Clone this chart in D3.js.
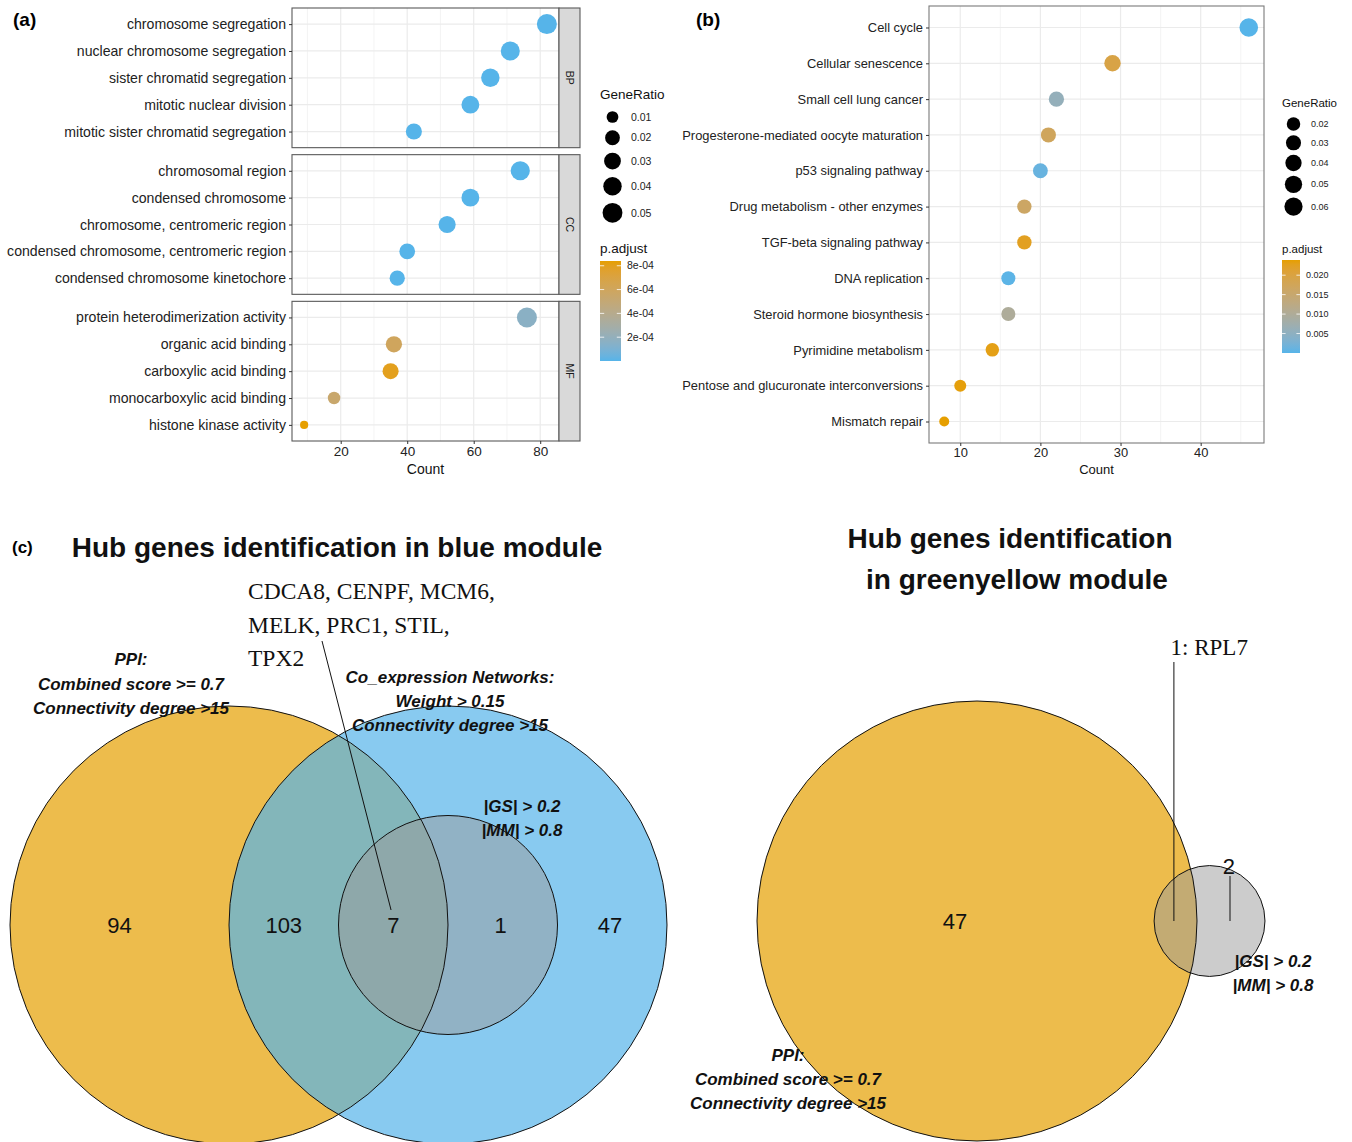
<!DOCTYPE html>
<html>
<head>
<meta charset="utf-8">
<script src="https://cdn.jsdelivr.net/npm/d3@7"></script>
<style>
  body { margin: 0; background: #fff; }
  svg { display: block; }
  text { font-family: "Liberation Sans", Arial, sans-serif; }
</style>
</head>
<body>
<script>
// ---- (a) GO enrichment ----
const goTerms = [
  "chromosome segregation", "nuclear chromosome segregation", "sister chromatid segregation",
  "mitotic nuclear division", "mitotic sister chromatid segregation",
  "chromosomal region", "condensed chromosome", "chromosome, centromeric region",
  "condensed chromosome, centromeric region", "condensed chromosome kinetochore",
  "protein heterodimerization activity", "organic acid binding", "carboxylic acid binding",
  "monocarboxylic acid binding", "histone kinase activity"
];
const goOntology = ["BP","BP","BP","BP","BP","CC","CC","CC","CC","CC","MF","MF","MF","MF","MF"];
const goCount = [82, 71, 65, 59, 42, 74, 59, 52, 40, 37, 76, 36, 35, 18, 9];
const goRatio = [0.051, 0.044, 0.040, 0.036, 0.026, 0.045, 0.036, 0.032, 0.024, 0.022, 0.051, 0.027, 0.026, 0.012, 0.006];
const goPadj = [2e-22, 1e-19, 4e-18, 3e-17, 6e-15, 1e-20, 2e-18, 5e-16, 3e-15, 8e-15, 1.6e-4, 6.0e-4, 8.0e-4, 5.4e-4, 8.4e-4];
const goCountTicks = [20, 40, 60, 80];
const goRatioBreaks = [0.01, 0.02, 0.03, 0.04, 0.05];
const goPadjBreaks = [2e-4, 4e-4, 6e-4, 8e-4];

// ---- (b) KEGG enrichment ----
const keggTerms = [
  "Cell cycle", "Cellular senescence", "Small cell lung cancer",
  "Progesterone-mediated oocyte maturation", "p53 signaling pathway",
  "Drug metabolism - other enzymes", "TGF-beta signaling pathway", "DNA replication",
  "Steroid hormone biosynthesis", "Pyrimidine metabolism",
  "Pentose and glucuronate interconversions", "Mismatch repair"
];
const keggCount = [46, 29, 22, 21, 20, 18, 18, 16, 16, 14, 10, 8];
const keggRatio = [0.065, 0.041, 0.031, 0.030, 0.028, 0.025, 0.025, 0.023, 0.023, 0.020, 0.014, 0.011];
const keggPadj = [1.2e-9, 0.0195, 0.0058, 0.0172, 0.0012, 0.0163, 0.0226, 0.0004, 0.0098, 0.0232, 0.0236, 0.0239];
const keggCountTicks = [10, 20, 30, 40];
const keggRatioBreaks = [0.02, 0.03, 0.04, 0.05, 0.06];
const keggPadjBreaks = [0.005, 0.010, 0.015, 0.020];

// ---- (c) Venn diagrams ----
const blueRegionCounts = [94, 103, 7, 1, 47];
const blueHubGenes = ["CDCA8", "CENPF", "MCM6", "MELK", "PRC1", "STIL", "TPX2"];
const gyRegionCounts = [47, 1, 2];
const gyHubGenes = ["RPL7"];
const ppiCriteria = ["PPI:", "Combined score >= 0.7", "Connectivity degree >15"];
const coexpCriteria = ["Co_expression Networks:", "Weight > 0.15", "Connectivity degree >15"];
const moduleCriteria = ["|GS| > 0.2", "|MM| > 0.8"];

const width = 1352, height = 1142;
const lowColor = "#56B4E9", highColor = "#E69F00";

const svg = d3.select("body").append("svg")
    .attr("width", width)
    .attr("height", height);
svg.append("rect").attr("width", width).attr("height", height).attr("fill", "#fff");

const defs = svg.append("defs");
defs.append("clipPath").attr("id", "clipB")
  .append("rect").attr("x", 660).attr("y", 0).attr("width", 679).attr("height", 500);

function expand(ext, mult = 0.05) {
  const d = ext[1] - ext[0];
  return [ext[0] - d * mult, ext[1] + d * mult];
}

function dotPlot(cfg) {
  const g = svg.append("g").attr("clip-path", cfg.clip || null);
  const n = cfg.terms.length;
  const x = d3.scaleLinear().domain(expand(d3.extent(cfg.count))).range([cfg.left, cfg.right]);
  const sizeT = d3.scaleLinear().domain(d3.extent(cfg.ratio)).range([0, 1]);
  const radius = v => cfg.rMin + (cfg.rMax - cfg.rMin) * Math.sqrt(Math.max(0, sizeT(v)));
  const padjExt = d3.extent(cfg.padj);
  const color = d3.scaleLinear().domain(padjExt).range([lowColor, highColor]).interpolate(d3.interpolateLab);
  const facets = cfg.facet ? Array.from(new Set(cfg.facet)) : [null];
  const panelH = (cfg.bottom - cfg.top - cfg.gap * (facets.length - 1)) / facets.length;
  const step = cfg.ticks[1] - cfg.ticks[0];
  const minor = cfg.ticks.map(t => t - step / 2)
    .concat([cfg.ticks[cfg.ticks.length - 1] + step / 2])
    .filter(v => v > x.domain()[0] && v < x.domain()[1]);

  facets.forEach((f, fi) => {
    const idx = d3.range(n).filter(i => !cfg.facet || cfg.facet[i] === f);
    const y0 = cfg.top + fi * (panelH + cfg.gap), y1 = y0 + panelH;
    const y = d3.scalePoint().domain(idx.map(i => cfg.terms[i])).range([y0, y1]).padding(0.6);
    const p = g.append("g");

    p.selectAll(".minor").data(minor).join("line")
      .attr("x1", d => x(d)).attr("x2", d => x(d))
      .attr("y1", y0).attr("y2", y1)
      .attr("stroke", "#efefef").attr("stroke-width", 0.7);
    p.selectAll(".major").data(cfg.ticks).join("line")
      .attr("x1", d => x(d)).attr("x2", d => x(d))
      .attr("y1", y0).attr("y2", y1)
      .attr("stroke", "#ebebeb").attr("stroke-width", 1.2);
    p.selectAll(".hgrid").data(idx).join("line")
      .attr("x1", cfg.left).attr("x2", cfg.right)
      .attr("y1", i => y(cfg.terms[i])).attr("y2", i => y(cfg.terms[i]))
      .attr("stroke", "#ebebeb").attr("stroke-width", 1.2);

    p.selectAll("circle").data(idx).join("circle")
      .attr("cx", i => x(cfg.count[i]))
      .attr("cy", i => y(cfg.terms[i]))
      .attr("r", i => radius(cfg.ratio[i]))
      .attr("fill", i => color(cfg.padj[i]));

    p.append("rect")
      .attr("x", cfg.left).attr("y", y0)
      .attr("width", cfg.right - cfg.left).attr("height", panelH)
      .attr("fill", "none").attr("stroke", cfg.border).attr("stroke-width", 1.1);

    const yAxis = p.append("g")
      .attr("transform", `translate(${cfg.left},0)`)
      .call(d3.axisLeft(y).tickSize(3).tickPadding(3));
    yAxis.select(".domain").remove();
    yAxis.selectAll("line").attr("stroke", "#333");
    yAxis.selectAll("text")
      .attr("fill", "#222")
      .style("font-size", cfg.labelSize + "px")
      .style("font-family", "'Liberation Sans', Arial, sans-serif");

    if (f) {
      p.append("rect")
        .attr("x", cfg.right).attr("y", y0)
        .attr("width", cfg.stripW).attr("height", panelH)
        .attr("fill", "#d9d9d9").attr("stroke", cfg.border).attr("stroke-width", 1.1);
      p.append("text")
        .attr("transform", `translate(${cfg.right + cfg.stripW / 2},${(y0 + y1) / 2}) rotate(90)`)
        .attr("text-anchor", "middle").attr("dy", "0.35em")
        .style("font-size", "10.5px").attr("fill", "#1a1a1a")
        .text(f);
    }

    if (fi === facets.length - 1) {
      const xAxis = p.append("g")
        .attr("transform", `translate(0,${y1})`)
        .call(d3.axisBottom(x).tickValues(cfg.ticks).tickSize(3).tickPadding(2));
      xAxis.select(".domain").remove();
      xAxis.selectAll("line").attr("stroke", "#333");
      xAxis.selectAll("text")
        .attr("fill", "#222")
        .style("font-size", cfg.tickSize + "px")
        .style("font-family", "'Liberation Sans', Arial, sans-serif");
    }
  });

  g.append("text")
    .attr("x", (cfg.left + cfg.right) / 2).attr("y", cfg.axisTitleY)
    .attr("text-anchor", "middle")
    .style("font-size", cfg.axisTitleSize + "px").attr("fill", "#111")
    .text("Count");

  // size legend
  const L = cfg.legend;
  g.append("text").attr("x", L.x).attr("y", L.sizeTitleY)
    .style("font-size", L.titleSize + "px").attr("fill", "#111").text("GeneRatio");
  let cy = L.firstKeyY, prevR = null;
  cfg.ratioBreaks.forEach(b => {
    const r = radius(b);
    if (prevR !== null) cy += prevR + r + L.keyGap;
    g.append("circle").attr("cx", L.x + L.keyDx).attr("cy", cy).attr("r", r).attr("fill", "#000");
    g.append("text").attr("x", L.x + L.labelDx).attr("y", cy).attr("dy", "0.35em")
      .style("font-size", L.labelSize + "px").attr("fill", "#222").text(b.toFixed(2));
    prevR = r;
  });

  // colour bar legend
  g.append("text").attr("x", L.x).attr("y", L.colorTitleY)
    .style("font-size", L.titleSize + "px").attr("fill", "#111").text("p.adjust");
  const gradId = "grad" + cfg.id;
  const grad = defs.append("linearGradient").attr("id", gradId)
    .attr("x1", 0).attr("y1", 1).attr("x2", 0).attr("y2", 0);
  d3.range(0, 1.0001, 0.05).forEach(t => {
    grad.append("stop").attr("offset", t)
      .attr("stop-color", color(padjExt[0] + t * (padjExt[1] - padjExt[0])));
  });
  const barY = d3.scaleLinear().domain(padjExt).range([L.barTop + L.barH, L.barTop]);
  g.append("rect").attr("x", L.x).attr("y", L.barTop)
    .attr("width", L.barW).attr("height", L.barH).attr("fill", `url(#${gradId})`);
  cfg.padjBreaks.forEach(b => {
    const yy = barY(b);
    g.append("line").attr("x1", L.x).attr("x2", L.x + L.barW / 5).attr("y1", yy).attr("y2", yy)
      .attr("stroke", "#fff").attr("stroke-width", 0.8);
    g.append("line").attr("x1", L.x + L.barW * 4 / 5).attr("x2", L.x + L.barW).attr("y1", yy).attr("y2", yy)
      .attr("stroke", "#fff").attr("stroke-width", 0.8);
    g.append("text").attr("x", L.x + L.barW + L.barLabelGap).attr("y", yy).attr("dy", "0.35em")
      .style("font-size", L.labelSize + "px").attr("fill", "#222").text(cfg.padjFormat(b));
  });
}

dotPlot({
  id: "A",
  terms: goTerms, facet: goOntology, count: goCount, ratio: goRatio, padj: goPadj,
  ticks: goCountTicks, ratioBreaks: goRatioBreaks, padjBreaks: goPadjBreaks,
  padjFormat: d => d.toExponential(0).replace(/e-(\d)$/, "e-0$1"),
  left: 292, right: 559, top: 8, bottom: 441, gap: 7, stripW: 21,
  rMin: 4.1, rMax: 10, border: "#5a5a5a",
  labelSize: 14.1, tickSize: 13.5, axisTitleSize: 14, axisTitleY: 474,
  legend: {
    x: 600, sizeTitleY: 99, titleSize: 13.5, firstKeyY: 117, keyGap: 7.5, keyDx: 12.5, labelDx: 31,
    labelSize: 10.5, colorTitleY: 253, barTop: 261, barH: 100, barW: 21, barLabelGap: 6
  }
});

dotPlot({
  id: "B", clip: "url(#clipB)",
  terms: keggTerms, facet: null, count: keggCount, ratio: keggRatio, padj: keggPadj,
  ticks: keggCountTicks, ratioBreaks: keggRatioBreaks, padjBreaks: keggPadjBreaks,
  padjFormat: d3.format(".3f"),
  left: 929, right: 1264, top: 6, bottom: 443, gap: 0, stripW: 0,
  rMin: 5, rMax: 9.3, border: "#7a7a7a",
  labelSize: 12.9, tickSize: 12.9, axisTitleSize: 13, axisTitleY: 474,
  legend: {
    x: 1282, sizeTitleY: 107, titleSize: 11.5, firstKeyY: 124, keyGap: 4.5, keyDx: 11.5, labelDx: 29,
    labelSize: 9, colorTitleY: 253, barTop: 260, barH: 93, barW: 18, barLabelGap: 6
  }
});

// panel letters
svg.append("text").attr("x", 13).attr("y", 26).style("font-size", "19px").style("font-weight", "bold").text("(a)");
svg.append("text").attr("x", 696).attr("y", 26).style("font-size", "19px").style("font-weight", "bold").text("(b)");
svg.append("text").attr("x", 12).attr("y", 553).style("font-size", "17px").style("font-weight", "bold").text("(c)");

// ---- Venn diagrams ----
const fillOrange = "#E69F00", fillBlue = "#56B4E9", fillGrey = "#999999";

function criteriaBlock(lines, cx, firstY, lh) {
  svg.append("g").selectAll("text").data(lines).join("text")
    .attr("x", cx).attr("y", (d, i) => firstY + i * lh)
    .attr("text-anchor", "middle")
    .style("font-size", "17px").style("font-weight", "bold").style("font-style", "italic")
    .attr("fill", "#111")
    .text(d => d);
}

function venn(circles, vx, unit, cy) {
  const g = svg.append("g");
  g.selectAll(".fill").data(circles).join("circle")
    .attr("cx", d => vx(d.cx)).attr("cy", cy).attr("r", d => d.r * unit)
    .attr("fill", d => d.fill).attr("fill-opacity", d => d.op);
  g.selectAll(".edge").data(circles).join("circle")
    .attr("cx", d => vx(d.cx)).attr("cy", cy).attr("r", d => d.r * unit)
    .attr("fill", "none").attr("stroke", "#111").attr("stroke-width", 1);
  return g;
}

// blue module
svg.append("text").attr("x", 337).attr("y", 557).attr("text-anchor", "middle")
  .style("font-size", "28px").style("font-weight", "bold").attr("fill", "#111")
  .text("Hub genes identification in blue module");

const vxL = d3.scaleLinear().domain([-1, 0]).range([229, 448]);
const unitL = 219, cyL = 925;
const gL = venn([
  { cx: -1, r: 1, fill: fillOrange, op: 0.7 },
  { cx: 0, r: 1, fill: fillBlue, op: 0.7 },
  { cx: 0, r: 0.5, fill: fillGrey, op: 0.5 }
], vxL, unitL, cyL);
const leftLabelPos = [-1.5, -0.75, -0.25, 0.24, 0.74];
gL.selectAll(".num").data(blueRegionCounts).join("text")
  .attr("x", (d, i) => vxL(leftLabelPos[i])).attr("y", cyL).attr("dy", "0.36em")
  .attr("text-anchor", "middle").style("font-size", "22px").attr("fill", "#111")
  .text(d => d);

gL.append("line")
  .attr("x1", vxL(-0.26)).attr("y1", cyL - 15)
  .attr("x2", 322).attr("y2", 641)
  .attr("stroke", "#111").attr("stroke-width", 1);
const geneLines = d3.range(0, blueHubGenes.length, 3)
  .map(i => blueHubGenes.slice(i, i + 3).join(", ") + (i + 3 < blueHubGenes.length ? "," : ""));
svg.append("g").selectAll("text").data(geneLines).join("text")
  .attr("x", 248).attr("y", (d, i) => 599 + i * 33.5)
  .style("font-family", "'Liberation Serif', 'Times New Roman', serif")
  .style("font-size", "23.5px").attr("fill", "#111")
  .text(d => d);

criteriaBlock(ppiCriteria, 131, 665, 24.5);
criteriaBlock(coexpCriteria, 450, 683, 24);
criteriaBlock(moduleCriteria, 522, 812, 23.5);

// greenyellow module
svg.append("g").selectAll("text").data(["Hub genes identification", "in greenyellow module"]).join("text")
  .attr("x", (d, i) => i === 0 ? 1010 : 1017).attr("y", (d, i) => 548 + i * 41)
  .attr("text-anchor", "middle")
  .style("font-size", "28px").style("font-weight", "bold").attr("fill", "#111")
  .text(d => d);

const vxR = d3.scaleLinear().domain([0, 1]).range([977, 1197]);
const unitR = 220, cyR = 921;
const gR = venn([
  { cx: 0, r: 1, fill: fillOrange, op: 0.7 },
  { cx: 1.057, r: 0.252, fill: fillGrey, op: 0.5 }
], vxR, unitR, cyR);

gR.append("text").attr("x", vxR(-0.1)).attr("y", cyR).attr("dy", "0.36em")
  .attr("text-anchor", "middle").style("font-size", "22px").attr("fill", "#111")
  .text(gyRegionCounts[0]);
gR.append("line").attr("x1", vxR(0.895)).attr("x2", vxR(0.895)).attr("y1", cyR).attr("y2", 662)
  .attr("stroke", "#111").attr("stroke-width", 1);
gR.append("text").attr("x", vxR(0.88)).attr("y", 655)
  .style("font-family", "'Liberation Serif', 'Times New Roman', serif")
  .style("font-size", "23px").attr("fill", "#111")
  .text(gyRegionCounts[1] + ": " + gyHubGenes.join(", "));
gR.append("line").attr("x1", vxR(1.15)).attr("x2", vxR(1.15)).attr("y1", cyR).attr("y2", 876)
  .attr("stroke", "#111").attr("stroke-width", 1);
gR.append("text").attr("x", vxR(1.145)).attr("y", 866).attr("dy", "0.36em")
  .attr("text-anchor", "middle").style("font-size", "22px").attr("fill", "#111")
  .text(gyRegionCounts[2]);

criteriaBlock(moduleCriteria, 1273, 967, 24);
criteriaBlock(ppiCriteria, 788, 1061, 24);
</script>
</body>
</html>
